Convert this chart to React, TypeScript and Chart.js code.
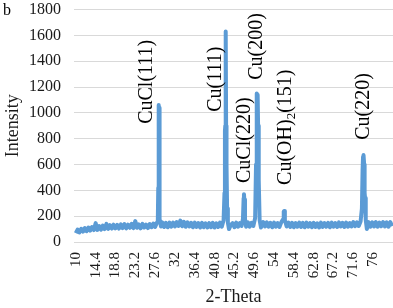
import React, { useEffect, useRef } from "react";
import { Chart, registerables } from "chart.js";

Chart.register(...registerables);

const theta = [
  10.0, 10.4, 10.8, 11.2, 11.6, 12.0, 12.4, 12.8, 13.2, 13.6, 14.0, 14.4, 14.8, 15.2, 15.6, 16.0,
  16.4, 16.8, 17.2, 17.6, 18.0, 18.4, 18.8, 19.2, 19.6, 20.0, 20.4, 20.8, 21.2, 21.6, 22.0, 22.4,
  22.8, 23.2, 23.6, 24.0, 24.4, 24.8, 25.2, 25.6, 26.0, 26.4, 26.8, 27.2, 27.6, 28.0,
  28.2, 28.3, 28.38, 28.42, 28.48, 28.52, 28.58, 28.68, 28.9,
  29.2, 29.6, 30.0, 30.4, 30.8, 31.2, 31.6, 32.0, 32.4, 32.8, 33.2, 33.6, 34.0, 34.4, 34.8, 35.2,
  35.6, 36.0, 36.4, 36.8, 37.2, 37.6, 38.0, 38.4, 38.8, 39.2, 39.6, 40.0, 40.4, 40.8, 41.2, 41.6,
  42.0, 42.4, 42.8,
  43.0, 43.1, 43.18, 43.24, 43.3, 43.36, 43.45, 43.58, 43.75, 44.0,
  44.4, 44.8, 45.2, 45.6, 46.0, 46.4, 46.8,
  47.1, 47.25, 47.32, 47.4, 47.55, 47.8,
  48.2, 48.6, 49.0, 49.4, 49.8,
  50.0, 50.12, 50.2, 50.28, 50.36, 50.46, 50.6, 50.8, 51.1,
  51.6, 52.0, 52.4, 52.8, 53.2, 53.6, 54.0, 54.4, 54.8, 55.2, 55.6,
  56.0, 56.15, 56.25, 56.4, 56.8,
  57.2, 57.6, 58.0, 58.4, 58.8, 59.2, 59.6, 60.0, 60.4, 60.8, 61.2, 61.6, 62.0, 62.4, 62.8, 63.2,
  63.6, 64.0, 64.4, 64.8, 65.2, 65.6, 66.0, 66.4, 66.8, 67.2, 67.6, 68.0, 68.4, 68.8, 69.2, 69.6,
  70.0, 70.4, 70.8, 71.2, 71.6, 72.0, 72.4, 72.8, 73.2,
  73.5, 73.65, 73.75, 73.82, 73.9, 74.0, 74.1, 74.2, 74.35, 74.6,
  75.0, 75.4, 75.8, 76.2, 76.6, 77.0, 77.4, 77.8, 78.2, 78.6, 79.0, 79.4, 79.8, 80.2,
];

const intensity = [
  68, 96, 74, 102, 80, 108, 84, 112, 88, 116, 92, 146, 94, 124, 96, 128,
  100, 140, 102, 130, 104, 134, 106, 132, 104, 136, 108, 138, 106, 134, 110, 140,
  108, 162, 110, 136, 106, 140, 112, 134, 108, 138, 114, 142, 116, 150,
  160, 420, 980, 1060, 940, 1040, 620, 180, 120,
  152, 116, 148, 114, 150, 118, 150, 120, 154, 124, 166, 122, 156, 118, 152, 120,
  148, 114, 150, 116, 146, 112, 148, 114, 144, 112, 146, 114, 148, 112, 144, 116,
  150, 118, 168,
  380, 860, 900, 840, 1630, 900, 600, 260, 150, 100,
  132, 146, 114, 150, 118, 146, 124,
  180, 340, 370, 330, 180, 118,
  152, 118, 148, 124, 185,
  600, 1100, 1150, 1080, 1140, 900, 480, 170, 112,
  154, 120, 152, 118, 148, 114, 150, 118, 146, 116, 152,
  175, 235, 240, 168, 120,
  150, 116, 148, 114, 146, 118, 150, 116, 148, 114, 150, 118, 146, 114, 148, 116,
  144, 112, 150, 116, 146, 118, 148, 114, 150, 118, 146, 116, 152, 120, 148, 116,
  150, 118, 146, 120, 154, 122, 152, 124, 158,
  260, 560, 660, 620, 673, 600, 380, 340, 170, 100,
  154, 118, 152, 120, 154, 118, 150, 122, 154, 120, 152, 118, 154, 122,
];

const xTickValues = [10, 14.4, 18.8, 23.2, 27.6, 32, 36.4, 40.8, 45.2, 49.6, 54, 58.4, 62.8, 67.2, 71.6, 76];
const xTickLabels = ["10", "14.4", "18.8", "23.2", "27.6", "32", "36.4", "40.8", "45.2", "49.6", "54", "58.4", "62.8", "67.2", "71.6", "76"];

// peak annotations: "_" separates subscript parts (odd segments are subscript)
const peakLabels = ["CuCl(111)", "Cu(111)", "CuCl(220)", "Cu(200)", "Cu(OH)_2_(151)", "Cu(220)"];
const peakLabelTheta = [25.8, 41.1, 47.6, 50.2, 56.7, 74.0];
const peakLabelBase = [915, 1008, 457, 1256, 442, 791];

const SERIF = '"Liberation Serif", "Times New Roman", serif';

const annotationPlugin = {
  id: "peakAnnotations",
  afterDatasetsDraw(chart: any) {
    const ctx = chart.ctx;
    const xs = chart.scales.x;
    const ys = chart.scales.y;
    ctx.save();
    ctx.fillStyle = "#000000";
    ctx.textAlign = "left";
    ctx.textBaseline = "middle";
    peakLabels.forEach((lab, i) => {
      const px = xs.getPixelForValue(peakLabelTheta[i]);
      const py = ys.getPixelForValue(peakLabelBase[i]);
      ctx.save();
      ctx.translate(px, py);
      ctx.rotate(-Math.PI / 2);
      let cx = 0;
      lab.split("_").forEach((part, j) => {
        const sub = j % 2 === 1;
        ctx.font = sub ? `13px ${SERIF}` : `20px ${SERIF}`;
        ctx.fillText(part, cx, sub ? 5 : 0);
        cx += ctx.measureText(part).width;
      });
      ctx.restore();
    });
    ctx.font = `16px ${SERIF}`;
    ctx.textBaseline = "alphabetic";
    ctx.fillText("b", 3, 15);
    ctx.restore();
  },
};

export default function App() {
  const canvasRef = useRef<HTMLCanvasElement | null>(null);

  useEffect(() => {
    if (!canvasRef.current) return;
    const points = theta.map((t, i) => ({ x: t, y: intensity[i] }));
    const chart = new Chart(canvasRef.current, {
      type: "line",
      data: {
        datasets: [
          {
            data: points,
            borderColor: "#5B9BD5",
            backgroundColor: "#5B9BD5",
            borderWidth: 4,
            pointRadius: 0,
            tension: 0,
            borderJoinStyle: "round",
          },
        ],
      },
      options: {
        animation: false,
        responsive: true,
        maintainAspectRatio: false,
        layout: { padding: { top: 9.5, right: 0, left: 0, bottom: 0 } },
        plugins: { legend: { display: false }, tooltip: { enabled: false } },
        scales: {
          x: {
            type: "linear",
            min: 9.6,
            max: 80.4,
            afterBuildTicks: (scale: any) => {
              scale.ticks = xTickValues.map((v) => ({ value: v }));
            },
            afterFit: (scale: any) => {
              scale.height = 66;
              scale.paddingLeft = 0;
              scale.paddingRight = 0;
            },
            grid: { display: false, drawTicks: false },
            border: { display: false },
            ticks: {
              autoSkip: false,
              maxRotation: 90,
              minRotation: 90,
              padding: 10,
              color: "#1a1a1a",
              font: { family: SERIF, size: 15 },
              callback: (value: any) => {
                const idx = xTickValues.findIndex((v) => Math.abs(v - Number(value)) < 1e-6);
                return idx >= 0 ? xTickLabels[idx] : "";
              },
            },
            title: {
              display: true,
              text: "2-Theta",
              color: "#1a1a1a",
              font: { family: SERIF, size: 18 },
              padding: 0,
            },
          },
          y: {
            min: 0,
            max: 1800,
            afterFit: (scale: any) => {
              scale.width = 74;
              scale.paddingTop = 0;
              scale.paddingBottom = 0;
            },
            grid: { color: "#d9d9d9", lineWidth: 1, drawTicks: false },
            border: { display: false },
            ticks: {
              stepSize: 200,
              padding: 13,
              color: "#1a1a1a",
              font: { family: SERIF, size: 16 },
              callback: (value: any) => String(value),
            },
            title: {
              display: true,
              text: "Intensity",
              color: "#1a1a1a",
              font: { family: SERIF, size: 18 },
              padding: { top: 2, bottom: 0 },
            },
          },
        },
      },
      plugins: [annotationPlugin],
    });
    return () => chart.destroy();
  }, []);

  return (
    <div style={{ position: "fixed", left: 0, top: 0, width: 393, height: 308, background: "#ffffff" }}>
      <canvas ref={canvasRef} />
    </div>
  );
}
